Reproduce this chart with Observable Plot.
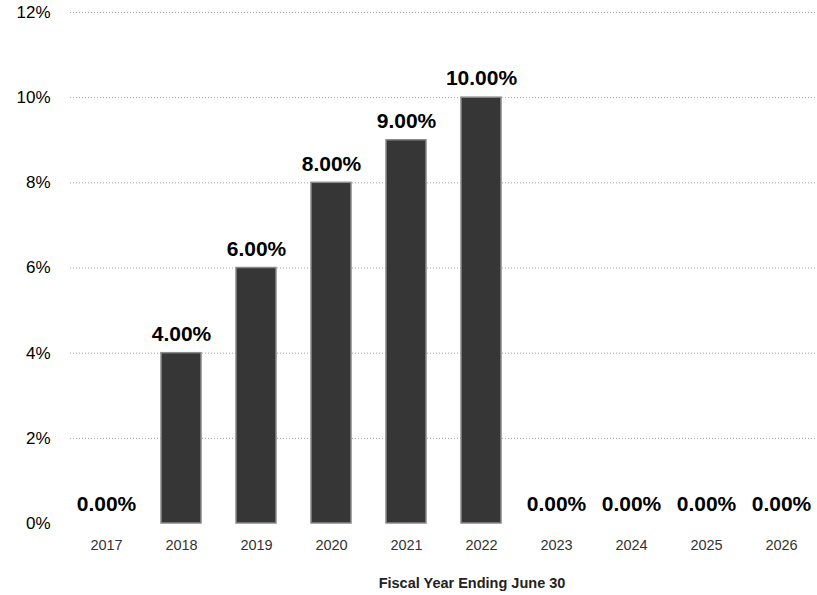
<!DOCTYPE html>
<html>
<head>
<meta charset="utf-8">
<script src="https://cdn.jsdelivr.net/npm/d3@7"></script>
<script src="https://cdn.jsdelivr.net/npm/@observablehq/plot@0.6"></script>
<style>
  html, body { margin: 0; padding: 0; background: #fff; }
  #chart svg { display: block; }
</style>
</head>
<body>
<div id="chart"></div>
<script>
const years = ["2017","2018","2019","2020","2021","2022","2023","2024","2025","2026"];
const rates = [0, 4, 6, 8, 9, 10, 0, 0, 0, 0];
const yTicks = [0, 2, 4, 6, 8, 10, 12];
const xTitle = "Fiscal Year Ending June 30";

const data = years.map((y, i) => ({year: y, rate: rates[i]}));

const chart = Plot.plot({
  width: 817,
  height: 595,
  marginLeft: 70,
  marginRight: 0,
  marginTop: 12,
  marginBottom: 72,
  style: {fontFamily: "'Liberation Sans', Arial, sans-serif", background: "#fff"},
  x: {domain: years, paddingInner: 0.47, paddingOuter: 0.19, label: null},
  y: {domain: [0, 12], ticks: yTicks, label: null},
  marks: [
    Plot.gridY(yTicks.filter(d => d > 0), {stroke: "#888", strokeOpacity: 0.8, strokeDasharray: "1,2", strokeWidth: 1}),
    Plot.barY(data, {x: "year", y: "rate", fill: "#363636", stroke: "#8a8a8a", strokeWidth: 1.5}),
    Plot.text(data, {x: "year", y: "rate", text: d => d.rate.toFixed(2) + "%", dy: -19, fontSize: 21, fontWeight: "bold", fill: "#000"}),
    Plot.axisY({ticks: yTicks, tickSize: 0, tickPadding: 20, tickFormat: d => d + "%", fontSize: 17, fill: "#000"}),
    Plot.axisX({tickSize: 0, tickPadding: 16, fontSize: 14.5, fill: "#333"}),
    Plot.text([xTitle], {frameAnchor: "bottom", dy: 64, dx: 28, fontSize: 14.5, fontWeight: "bold", fill: "#222"})
  ]
});
document.getElementById("chart").appendChild(chart);
</script>
</body>
</html>
